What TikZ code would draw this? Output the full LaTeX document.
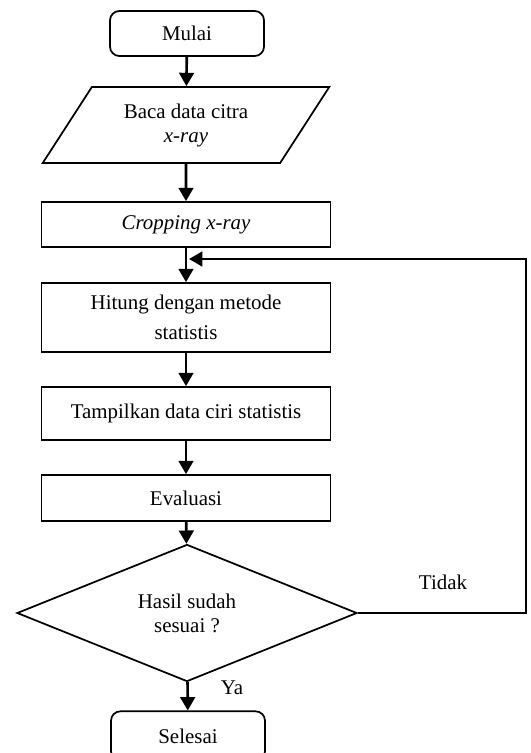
\documentclass[tikz,border=0pt]{standalone}
\usepackage{fontspec}
\setmainfont{Liberation Serif}
\usetikzlibrary{shapes.geometric,arrows.meta}
\tikzset{
  base/.style={draw, line width=1.3pt, inner sep=0pt, align=center,
    font=\fontsize{15.7}{18}\selectfont},
  proses/.style={base, rectangle, minimum width=216.75pt},
  terminal/.style={base, rectangle, rounded corners=7pt, minimum width=115.5pt, minimum height=33.75pt},
  io/.style={base, trapezium, trapezium left angle=53, trapezium right angle=127,
    trapezium stretches=true, minimum width=215.25pt, minimum height=57pt},
  keputusan/.style={base, diamond, minimum width=255pt, minimum height=82.5pt},
  panah/.style={line width=2pt, -{Triangle[width=11pt,length=10pt]}},
  label/.style={font=\fontsize{15.7}{18}\selectfont}
}
\begin{document}
\begin{tikzpicture}[x=0.75pt,y=-0.75pt]
  \useasboundingbox (0,0) rectangle (531,753);
  \node[terminal] (mulai) at (187,33.5) {Mulai};
  \node[io] (baca) at (186,125) {Baca data citra\\\textit{x-ray}};
  \node[proses, minimum height=33.75pt] (crop) at (186,224.5) {\textit{Cropping x-ray}};
  \node[proses, minimum height=51.75pt] (hitung) at (186,317.5) {Hitung dengan metode\\[4pt]statistis};
  \node[proses, minimum height=39.75pt] (tampil) at (186,413.5) {Tampilkan data ciri statistis};
  \node[proses, minimum height=34.5pt] (eval) at (186,498) {Evaluasi};
  \node[keputusan] (cek) at (187,613) {Hasil sudah\\sesuai ?};
  \node[terminal, minimum height=37pt] (selesai) at (188,736) {Selesai};
  \coordinate (balik) at (187,259);
  \coordinate (kanan) at (526,613);
  \coordinate (atas) at (526,259);

  \draw[panah] (mulai) -- (baca);
  \draw[panah] (baca) -- (crop);
  \draw[panah] (crop) -- (hitung);
  \draw[panah] (hitung) -- (tampil);
  \draw[panah] (tampil) -- (eval);
  \draw[panah] (eval) -- (cek);
  \draw[panah] (cek) -- (selesai);
  \draw[panah, shorten >=1.5pt] (cek.east) -- (kanan) -- (atas) -- (balik);

  \node[label] (tidak) at (443,582) {Tidak};
  \node[label] (ya) at (232,688) {Ya};
\end{tikzpicture}
\end{document}
